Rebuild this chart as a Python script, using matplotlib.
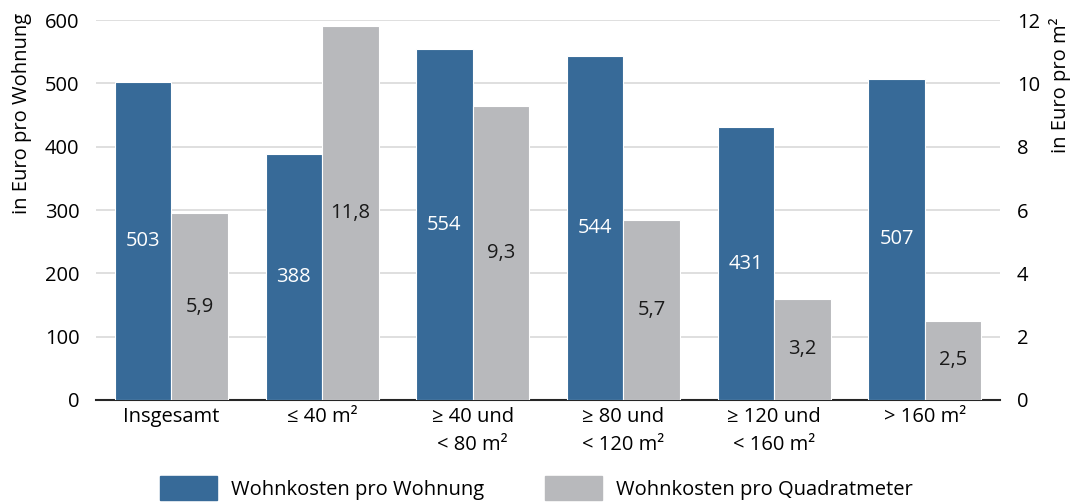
import matplotlib
matplotlib.use("Agg")
import matplotlib.pyplot as plt
import numpy as np
from matplotlib.patches import Patch

categories = ["Insgesamt", "≤ 40 m²", "≥ 40 und\n< 80 m²", "≥ 80 und\n< 120 m²", "≥ 120 und\n< 160 m²", "> 160 m²"]
pro_wohnung = [503, 388, 554, 544, 431, 507]
pro_qm = [5.9, 11.8, 9.3, 5.7, 3.2, 2.5]
pro_qm_labels = ["5,9", "11,8", "9,3", "5,7", "3,2", "2,5"]
left_ticks = [0, 100, 200, 300, 400, 500, 600]
right_ticks = [0, 2, 4, 6, 8, 10, 12]
series_names = ["Wohnkosten pro Wohnung", "Wohnkosten pro Quadratmeter"]

plt.rcParams['font.family'] = ['Open Sans', 'DejaVu Sans']
FS = 14.5
BLUE = "#376A98"
GRAY = "#B8B9BC"

fig = plt.figure(figsize=(10.7, 5.03), dpi=100)
ax = fig.add_axes([0.0897, 0.2048, 0.845, 0.7552])
ax2 = ax.twinx()

x = np.arange(len(categories))
w = 0.375
ax.bar(x - w/2, pro_wohnung, w, color=BLUE, edgecolor="white", linewidth=0.8, zorder=3)
ax2.bar(x + w/2, pro_qm, w, color=GRAY, edgecolor="white", linewidth=0.8, zorder=3)

for xi, v in zip(x, pro_wohnung):
    ax.text(xi - w/2, v/2, str(v), ha="center", va="center", color="white", fontsize=FS, zorder=4)
for xi, v, lab in zip(x, pro_qm, pro_qm_labels):
    ax2.text(xi + w/2, v/2, lab, ha="center", va="center", color="#1a1a1a", fontsize=FS, zorder=4)

ax.set_xlim(-0.5, len(categories) - 0.5)
ax.set_ylim(0, 600)
ax2.set_ylim(0, 12)
ax.set_yticks(left_ticks)
ax2.set_yticks(right_ticks)
ax.set_xticks(x)
ax.set_xticklabels(categories, fontsize=FS, linespacing=1.55)
ax.tick_params(axis="y", labelsize=FS, length=0, pad=12)
ax2.tick_params(axis="y", labelsize=FS, length=0, pad=12)
ax.tick_params(axis="x", length=0, pad=5)
ax.yaxis.grid(True, color="#D9D9D9", linewidth=1.2, zorder=0)
ax.set_axisbelow(True)
for a in (ax, ax2):
    for s in ("top", "left", "right"):
        a.spines[s].set_visible(False)
    a.spines["bottom"].set_color("#262626")
    a.spines["bottom"].set_linewidth(1.5)
ax2.spines["bottom"].set_visible(False)

ax.set_ylabel("in Euro pro Wohnung", fontsize=FS)
ax.yaxis.set_label_coords(-0.071, 0.755)
ax2.set_ylabel("in Euro pro m²", fontsize=FS, rotation=90)
ax2.yaxis.set_label_coords(1.054, 0.83)

for name, color, xpos in zip(series_names, [BLUE, GRAY], [160, 545]):
    fig.legend([Patch(color=color)], [name], loc="upper left",
               bbox_to_anchor=(xpos / 1070, 1 - 476 / 503), frameon=False,
               fontsize=FS, handlelength=2.85, handleheight=1.45, handletextpad=0.7,
               borderpad=0, borderaxespad=0)

fig.savefig("out.png", dpi=100)
